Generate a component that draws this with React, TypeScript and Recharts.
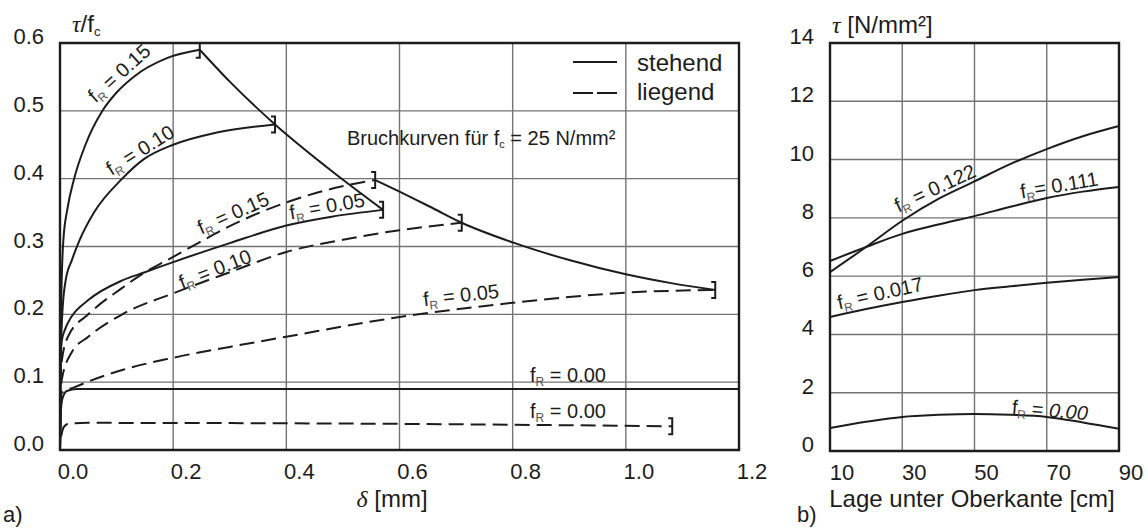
import { LineChart, Line, XAxis, YAxis, CartesianGrid, ReferenceArea } from "recharts";

const FONT = '"Liberation Sans", Arial, sans-serif';
const SERIF = '"Liberation Serif", serif';
const INK = "#1c1c1c";
const GRID = "#737373";
const DASH = "15 7";

// panel a) — slip δ [mm] vs. bond stress ratio τ/fc
const DELTA_TICKS = [0, 0.2, 0.4, 0.6, 0.8, 1.0, 1.2];
const RATIO_TICKS = [0, 0.1, 0.2, 0.3, 0.4, 0.5, 0.6];

// stehend (solid)
const S15: [number, number][] = [
  [0, 0], [0.001, 0.15], [0.003, 0.25], [0.006, 0.31], [0.013, 0.355], [0.025, 0.4], [0.045, 0.45],
  [0.075, 0.5], [0.1, 0.527], [0.13, 0.55], [0.19, 0.578], [0.247, 0.59],
];
const S10: [number, number][] = [
  [0, 0], [0.001, 0.12], [0.004, 0.2], [0.01, 0.25], [0.021, 0.28], [0.035, 0.31], [0.06, 0.35],
  [0.11, 0.4], [0.147, 0.428], [0.2, 0.45], [0.277, 0.468], [0.38, 0.48],
];
const S05: [number, number][] = [
  [0, 0], [0.001, 0.12], [0.003, 0.16], [0.01, 0.18], [0.02, 0.196], [0.05, 0.221], [0.11, 0.25],
  [0.15, 0.262], [0.2, 0.277], [0.3, 0.305], [0.4, 0.331], [0.48, 0.344], [0.571, 0.354],
];
const S00: [number, number][] = [
  [0, 0], [0.001, 0.05], [0.004, 0.075], [0.012, 0.087], [0.03, 0.09], [1.2, 0.09],
];
// liegend (dashed)
const L15: [number, number][] = [
  [0, 0], [0.001, 0.1], [0.003, 0.13], [0.014, 0.167], [0.05, 0.2], [0.11, 0.239], [0.15, 0.262],
  [0.19, 0.28], [0.244, 0.305], [0.3, 0.33], [0.4, 0.365], [0.495, 0.388], [0.557, 0.398],
];
const L10: [number, number][] = [
  [0, 0], [0.001, 0.08], [0.003, 0.103], [0.02, 0.143], [0.05, 0.167], [0.11, 0.2], [0.2, 0.231],
  [0.3, 0.262], [0.4, 0.292], [0.5, 0.31], [0.6, 0.324], [0.71, 0.335],
];
const L05: [number, number][] = [
  [0, 0], [0.001, 0.06], [0.003, 0.084], [0.027, 0.093], [0.11, 0.118], [0.2, 0.136], [0.3, 0.152],
  [0.4, 0.167], [0.6, 0.196], [0.8, 0.217], [1.0, 0.232], [1.158, 0.236],
];
const L00: [number, number][] = [
  [0.002, 0.02], [0.006, 0.033], [0.015, 0.039], [0.05, 0.04], [0.5, 0.039], [1.082, 0.035],
];
// Bruchkurven
const BRUCH_S: [number, number][] = [
  [0.247, 0.59], [0.3, 0.543], [0.38, 0.48], [0.47, 0.418], [0.571, 0.354],
];
const BRUCH_L: [number, number][] = [
  [0.557, 0.398], [0.6, 0.381], [0.66, 0.356], [0.71, 0.335], [0.8, 0.306], [0.9, 0.28],
  [1.0, 0.259], [1.08, 0.246], [1.158, 0.236],
];

// panel b) — τ over depth
const DEPTH = [10, 20, 30, 40, 50, 60, 70, 80, 90];
const DEPTH_TICKS = [10, 30, 50, 70, 90];
const TAU_TICKS = [0, 2, 4, 6, 8, 10, 12, 14];
const FR122 = [6.14, 7.0, 7.9, 8.65, 9.25, 9.85, 10.36, 10.8, 11.15];
const FR111 = [6.52, 7.0, 7.45, 7.77, 8.06, 8.38, 8.68, 8.9, 9.06];
const FR017 = [4.6, 4.87, 5.11, 5.33, 5.52, 5.65, 5.77, 5.88, 5.97];
const FR000 = [0.79, 1.0, 1.17, 1.24, 1.27, 1.24, 1.17, 0.98, 0.76];

const pts = (a: [number, number][]) => a.map(([d, t]) => ({ d, t }));
const depthData = DEPTH.map((x, i) => ({ x, r122: FR122[i], r111: FR111[i], r017: FR017[i], r000: FR000[i] }));

const endBracket = (last: number) => (p: any) =>
  p.index === last ? (
    <path
      key={p.index}
      d={`M${p.cx - 4},${p.cy - 8}H${p.cx}V${p.cy + 8}H${p.cx - 4}`}
      fill="none"
      stroke={INK}
      strokeWidth={2}
      strokeDasharray="none"
    />
  ) : (
    <g key={p.index} />
  );

const xTick = (dx: number, fmt: (v: number) => string) => (p: any) => (
  <text x={p.x + dx} y={p.y + 29} textAnchor="middle" fontSize={22} fontFamily={FONT} fill={INK}>
    {fmt(p.payload.value)}
  </text>
);
const yTick = (fmt: (v: number) => string) => (p: any) => (
  <text x={p.x - 16} y={p.y + 1} textAnchor="end" fontSize={22} fontFamily={FONT} fill={INK}>
    {fmt(p.payload.value)}
  </text>
);

const SERIES_A = [
  { key: "s15", data: S15, dashed: false, bracket: true },
  { key: "s10", data: S10, dashed: false, bracket: true },
  { key: "s05", data: S05, dashed: false, bracket: true },
  { key: "s00", data: S00, dashed: false, bracket: false },
  { key: "l15", data: L15, dashed: true, bracket: true },
  { key: "l10", data: L10, dashed: true, bracket: true },
  { key: "l05", data: L05, dashed: true, bracket: true },
  { key: "l00", data: L00, dashed: true, bracket: true },
  { key: "bs", data: BRUCH_S, dashed: false, bracket: false },
  { key: "bl", data: BRUCH_L, dashed: false, bracket: false },
];

function FR({ x, y, angle, value, noSpace, italicValue }: any) {
  return (
    <g transform={`translate(${x},${y}) rotate(${angle})`}>
      <text x={0} y={7} textAnchor="middle" fontSize={20} fontFamily={FONT} fill={INK}>
        f
        <tspan fontSize={12} dy={4} fill="#555">R</tspan>
        <tspan dy={-4}>{noSpace ? "= " : " = "}</tspan>
        <tspan fontStyle={italicValue ? "italic" : "normal"}>{value}</tspan>
      </text>
    </g>
  );
}

export default function App() {
  return (
    <div style={{ position: "absolute", left: 0, top: 0, width: 1147, height: 532, background: "#fff" }}>
      <div style={{ position: "absolute", left: 0, top: 0 }}>
        <LineChart width={790} height={532} margin={{ top: 43, right: 51, bottom: 0, left: 0 }}>
          <CartesianGrid stroke={GRID} strokeWidth={1.4} />
          <XAxis
            type="number"
            dataKey="d"
            domain={[0, 1.2]}
            ticks={DELTA_TICKS}
            interval={0}
            allowDataOverflow
            axisLine={false}
            tickLine={false}
            tickSize={0}
            tickMargin={0}
            height={82}
            tick={xTick(13, (v) => v.toFixed(1))}
          />
          <YAxis
            type="number"
            domain={[0, 0.6]}
            ticks={RATIO_TICKS}
            interval={0}
            allowDataOverflow
            axisLine={false}
            tickLine={false}
            tickSize={0}
            tickMargin={0}
            width={60}
            tick={yTick((v) => v.toFixed(1))}
          />
          <ReferenceArea x1={0} x2={1.2} y1={0} y2={0.6} fill="none" stroke={INK} strokeWidth={2.4} ifOverflow="visible" />
          {SERIES_A.map((s) => (
            <Line
              key={s.key}
              data={pts(s.data)}
              dataKey="t"
              type="monotone"
              stroke={INK}
              strokeWidth={2}
              strokeDasharray={s.dashed ? DASH : undefined}
              dot={s.bracket ? endBracket(s.data.length - 1) : false}
              activeDot={false}
              isAnimationActive={false}
            />
          ))}
        </LineChart>
      </div>

      <div style={{ position: "absolute", left: 760, top: 0 }}>
        <LineChart width={387} height={532} data={depthData} margin={{ top: 43, right: 28, bottom: 0, left: 0 }}>
          <CartesianGrid stroke={GRID} strokeWidth={1.4} />
          <XAxis
            type="number"
            dataKey="x"
            domain={[10, 90]}
            ticks={DEPTH_TICKS}
            interval={0}
            axisLine={false}
            tickLine={false}
            tickSize={0}
            tickMargin={0}
            height={81}
            tick={xTick(12, (v) => String(v))}
          />
          <YAxis
            type="number"
            domain={[0, 14]}
            ticks={TAU_TICKS}
            interval={0}
            axisLine={false}
            tickLine={false}
            tickSize={0}
            tickMargin={0}
            width={70}
            tick={yTick((v) => String(v))}
          />
          <ReferenceArea x1={10} x2={90} y1={0} y2={14} fill="none" stroke={INK} strokeWidth={2.4} ifOverflow="visible" />
          {["r122", "r111", "r017", "r000"].map((k) => (
            <Line key={k} dataKey={k} type="monotone" stroke={INK} strokeWidth={2} dot={false} activeDot={false} isAnimationActive={false} />
          ))}
        </LineChart>
      </div>

      <svg width={1147} height={532} style={{ position: "absolute", left: 0, top: 0, pointerEvents: "none" }}>
        <g fontFamily={FONT} fill={INK}>
          <text x={72} y={32} fontSize={24}>
            <tspan fontStyle="italic" fontFamily={SERIF}>τ</tspan>/f
            <tspan fontSize={13} dy={4}>c</tspan>
          </text>
          <text x={832} y={33} fontSize={24}>
            <tspan fontStyle="italic" fontFamily={SERIF}>τ</tspan> [N/mm²]
          </text>
          <text x={392} y={507} fontSize={24} textAnchor="middle">
            <tspan fontStyle="italic" fontFamily={SERIF}>δ</tspan> [mm]
          </text>
          <text x={972} y={507} fontSize={24} textAnchor="middle">Lage unter Oberkante [cm]</text>
          <text x={3} y={522} fontSize={22}>a)</text>
          <text x={797} y={522} fontSize={22}>b)</text>

          <line x1={573} x2={617} y1={62} y2={62} stroke={INK} strokeWidth={2} />
          <line x1={573} x2={617} y1={93} y2={93} stroke={INK} strokeWidth={2} strokeDasharray="20 4" />
          <text x={637} y={71} fontSize={24}>stehend</text>
          <text x={637} y={100} fontSize={24}>liegend</text>

          <text x={347} y={145} fontSize={20}>
            Bruchkurven für f<tspan fontSize={11} dy={3}>c</tspan>
            <tspan dy={-3}> = 25 N/mm²</tspan>
          </text>
        </g>

        <FR x={119} y={73} angle={-42} value="0.15" />
        <FR x={140} y={150} angle={-32} value="0.10" />
        <FR x={233} y={213} angle={-24} value="0.15" />
        <FR x={327} y={206} angle={-10} value="0.05" />
        <FR x={215} y={269} angle={-21.5} value="0.10" />
        <FR x={461} y={295} angle={-6.3} value="0.05" />
        <FR x={568} y={375} angle={0} value="0.00" />
        <FR x={568} y={411} angle={0} value="0.00" />

        <FR x={935} y={188} angle={-25} value="0.122" />
        <FR x={1059} y={185} angle={-9.5} value="0.111" noSpace />
        <FR x={880} y={293} angle={-12.7} value="0.017" />
        <FR x={1050} y={410} angle={5} value="0.00" italicValue />
      </svg>
    </div>
  );
}
